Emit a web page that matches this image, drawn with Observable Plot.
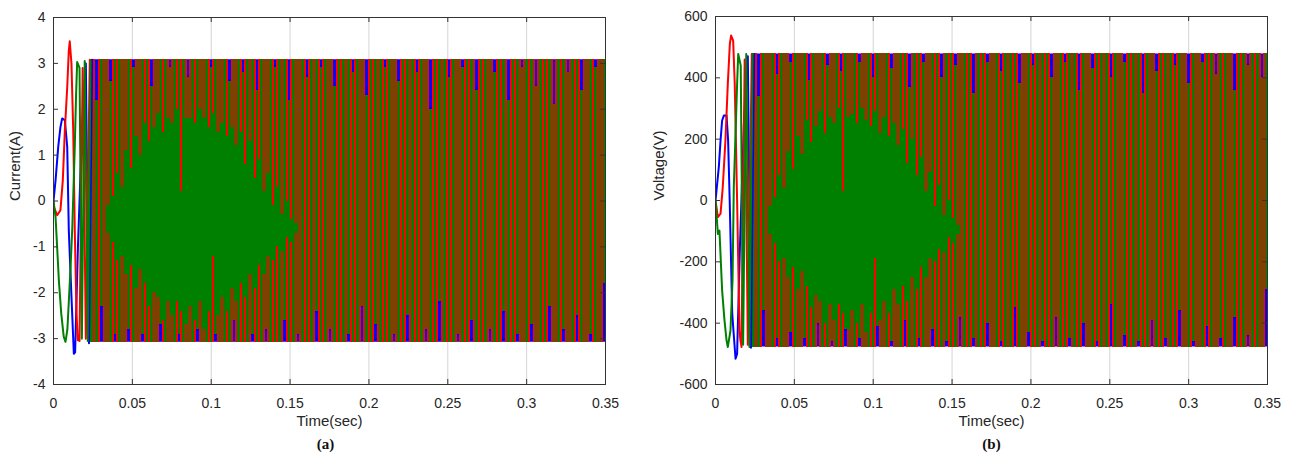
<!DOCTYPE html>
<html>
<head>
<meta charset="utf-8">
<script src="https://cdn.jsdelivr.net/npm/d3@7"></script>
<script src="https://cdn.jsdelivr.net/npm/@observablehq/plot@0.6"></script>
<style>
html, body { margin: 0; padding: 0; background: #fff; }
#wrap { display: flex; width: 1297px; height: 460px; overflow: hidden; }
#wrap > div { flex: none; }
</style>
</head>
<body>
<div id="wrap"><div id="pa"></div><div id="pb"></div></div>
<script>
// ---------- shared axis data ----------
const xTicks = [0, 0.05, 0.1, 0.15, 0.2, 0.25, 0.3, 0.35];
const xTickLabels = ["0", "0.05", "0.1", "0.15", "0.2", "0.25", "0.3", "0.35"];
const xLabel = "Time(sec)";

// ---------- panel (a): current ----------
const yTicksA = [-4, -3, -2, -1, 0, 1, 2, 3, 4];
const yTickLabelsA = ["-4", "-3", "-2", "-1", "0", "1", "2", "3", "4"];
const yLabelA = "Current(A)";
const captionA = "(a)";
const ampA = 3.08;

// start-up transient, [time, value] turning points
const blueStartA = [[0,0],[0.0013,0.45],[0.003,1.18],[0.0044,1.61],[0.0055,1.8],[0.0072,1.76],[0.0087,1.18],[0.0097,-0.64],[0.0114,-2.09],[0.0129,-3.33],[0.0137,-3.3],[0.0155,-1.0],[0.018,1.5],[0.0205,3.0],[0.0225,-3.1],[0.0245,3.08]];
const redStartA = [[0,0],[0.0002,-0.13],[0.0023,-0.31],[0.0044,-0.2],[0.0059,0.45],[0.0072,1.54],[0.0087,2.48],[0.0097,3.28],[0.0103,3.48],[0.0114,2.99],[0.0125,1.54],[0.0135,-0.64],[0.0146,-2.45],[0.0154,-3.03],[0.0165,-3.05],[0.0185,2.9],[0.0205,-3.0],[0.023,3.08]];
const greenStartA = [[0,0],[0.0013,-0.35],[0.0023,-1.0],[0.0034,-1.73],[0.0049,-2.45],[0.0065,-2.96],[0.0076,-3.07],[0.0088,-2.8],[0.01,-2.0],[0.011,-1.3],[0.0119,-0.6],[0.0127,0.3],[0.0135,1.2],[0.0143,2.3],[0.015,3.03],[0.0165,2.9],[0.018,-3.0],[0.0198,3.05],[0.0217,-3.05],[0.0235,3.05]];

// steady oscillation: one stroke per step
const strokeStart = 0.0245;
const strokeStep = 0.0029;

// green stroke extents (top / bottom)
const greenHiA = [
 3.08, 2.2, 3.08, 3.08, 2.6, 3.08, 3.08, 3.08, 3.08, 2.9,
 3.08, 3.08, 3.08, 2.5, 3.08, 3.08, 3.08, 2.9, 3.08, 3.08,
 3.08, 2.7, 3.08, 3.08, 3.08, 3.08, 2.9, 3.08, 3.08, 3.08,
 2.6, 3.08, 3.08, 2.8, 3.08, 3.08, 2.4, 3.08, 3.08, 3.08,
 2.9, 3.08, 3.08, 2.2, 3.08, 3.08, 3.08, 2.7, 3.08, 3.08,
 2.9, 3.08, 3.08, 2.5, 3.08, 3.08, 3.08, 2.8, 3.08, 3.08,
 2.3, 3.08, 3.08, 3.08, 2.9, 3.08, 3.08, 2.6, 3.08, 3.08,
 3.08, 2.8, 3.08, 3.08, 2.0, 3.08, 3.08, 3.08, 2.7, 3.08,
 3.08, 2.9, 3.08, 3.08, 2.4, 3.08, 3.08, 3.08, 2.8, 3.08,
 3.08, 2.2, 3.08, 3.08, 2.9, 3.08, 3.08, 2.5, 3.08, 3.08,
 3.08, 2.1, 3.08, 3.08, 2.8, 3.08, 3.08, 2.4, 3.08, 3.08,
 2.9, 3.08, 3.08];
const greenLoA = [
 -3.08, -3.08, -2.3, -3.08, -3.08, -2.9, -3.08, -3.08, -2.8, -3.08,
 -3.08, -2.9, -3.08, -3.08, -3.08, -2.7, -3.08, -3.08, -3.08, -2.9,
 -3.08, -3.08, -3.08, -2.8, -3.08, -3.08, -3.08, -2.9, -3.08, -3.08,
 -3.08, -2.6, -3.08, -3.08, -3.08, -2.9, -3.08, -3.08, -2.8, -3.08,
 -3.08, -3.08, -2.6, -3.08, -3.08, -2.9, -3.08, -3.08, -3.08, -2.4,
 -3.08, -3.08, -2.8, -3.08, -3.08, -3.08, -2.9, -3.08, -3.08, -2.3,
 -3.08, -3.08, -2.7, -3.08, -3.08, -3.08, -2.9, -3.08, -3.08, -2.5,
 -3.08, -3.08, -3.08, -2.8, -3.08, -3.08, -2.2, -3.08, -3.08, -3.08,
 -2.9, -3.08, -3.08, -2.6, -3.08, -3.08, -3.08, -2.8, -3.08, -3.08,
 -2.4, -3.08, -3.08, -2.9, -3.08, -3.08, -2.7, -3.08, -3.08, -3.08,
 -2.3, -3.08, -3.08, -2.8, -3.08, -3.08, -2.5, -3.08, -3.08, -2.9,
 -3.08, -3.08, -1.8];
// red strokes: the upper part runs from +amp down to redUpperEnd,
// the lower part from -amp up to redLowerEnd (equal values = full stroke)
const redUpperEndA = [
 0, 0, 0, -0.1, 0.1, 0.6, 0.3, 1.1, 0.7, 1.4,
 1.0, 1.7, 1.3, 1.6, 1.9, 1.5, 1.8, 1.7, 2.0, 0.2,
 1.8, 1.8, 1.7, 2.0, 1.8, 1.6, 1.9, 1.5, 1.7, 1.4,
 1.6, 1.2, 1.5, 0.8, 1.3, 0.5, 0.9, 0.2, 0.6, -0.1,
 0.3, -0.3, 0, -0.4, -0.5, 0, 0, 0, 0, 0,
 0, 0, 0, 0, 0, 0, 0, 0, 0, 0,
 0, 0, 0, 0, 0, 0, 0, 0, 0, 0,
 0, 0, 0, 0, 0, 0, 0, 0, 0, 0,
 0, 0, 0, 0, 0, 0, 0, 0, 0, 0,
 0, 0, 0, 0, 0, 0, 0, 0, 0, 0,
 0, 0, 0, 0, 0, 0, 0, 0, 0, 0,
 0, 0, 0];
const redLowerEndA = [
 0, 0, 0, -0.7, -0.9, -1.3, -1.2, -1.6, -1.4, -1.9,
 -1.5, -1.8, -2.3, -2.0, -2.1, -2.6, -2.2, -2.5, -2.2, -2.4,
 -2.7, -2.3, -2.6, -2.2, -2.8, -2.4, -1.2, -2.5, -2.1, -2.4,
 -1.9, -2.2, -1.8, -2.1, -1.6, -1.9, -1.4, -1.6, -1.2, -1.3,
 -1.0, -1.1, -0.8, -0.9, -0.7, 0, 0, 0, 0, 0,
 0, 0, 0, 0, 0, 0, 0, 0, 0, 0,
 0, 0, 0, 0, 0, 0, 0, 0, 0, 0,
 0, 0, 0, 0, 0, 0, 0, 0, 0, 0,
 0, 0, 0, 0, 0, 0, 0, 0, 0, 0,
 0, 0, 0, 0, 0, 0, 0, 0, 0, 0,
 0, 0, 0, 0, 0, 0, 0, 0, 0, 0,
 0, 0, 0];
// blue phase: covers the full band behind the others
const blueBandTimes = [0.023, 0.35];
const blueBandHiA = [3.08, 3.08];
const blueBandLoA = [-3.08, -3.08];

// ---------- panel (b): voltage ----------
const yTicksB = [-600, -400, -200, 0, 200, 400, 600];
const yTickLabelsB = ["-600", "-400", "-200", "0", "200", "400", "600"];
const yLabelB = "Voltage(V)";
const captionB = "(b)";
const ampB = 478;

const blueStartB = [[0,0],[0.0021,109],[0.0032,196],[0.0042,261],[0.0053,277],[0.007,277],[0.008,196],[0.009,0],[0.0106,-369],[0.0127,-516],[0.0137,-500],[0.0155,-150],[0.018,250],[0.0205,470],[0.0225,-480],[0.0245,478]];
const redStartB = [[0,0],[0.0015,-54],[0.0032,-43],[0.0046,43],[0.0063,196],[0.0078,380],[0.0091,511],[0.0099,538],[0.0112,521],[0.0122,380],[0.0137,0],[0.0152,-424],[0.0158,-456],[0.0165,-478],[0.0185,460],[0.0205,-470],[0.023,478]];
const greenStartB = [[0,0],[0.0015,-109],[0.0025,-98],[0.0042,-293],[0.0057,-391],[0.007,-456],[0.0078,-478],[0.0095,-424],[0.0108,-261],[0.0116,43],[0.0127,217],[0.0137,380],[0.0144,478],[0.016,440],[0.0175,-470],[0.0195,478],[0.0215,-478],[0.0235,478]];

const greenHiB = [
 478, 340, 478, 478, 478, 410, 478, 478, 450, 478,
 478, 478, 390, 478, 478, 478, 440, 478, 478, 420,
 478, 478, 478, 450, 478, 478, 400, 478, 478, 478,
 430, 478, 478, 478, 370, 478, 478, 450, 478, 478,
 478, 400, 478, 478, 440, 478, 478, 478, 350, 478,
 478, 450, 478, 478, 420, 478, 478, 478, 380, 478,
 478, 440, 478, 478, 478, 400, 478, 478, 450, 478,
 478, 360, 478, 478, 430, 478, 478, 478, 400, 478,
 478, 450, 478, 478, 478, 350, 478, 478, 420, 478,
 478, 478, 440, 478, 478, 380, 478, 478, 450, 478,
 478, 410, 478, 478, 478, 360, 478, 478, 440, 478,
 478, 400, 478];
const greenLoB = [
 -478, -478, -360, -478, -478, -450, -478, -478, -430, -478,
 -478, -450, -478, -478, -400, -478, -478, -460, -478, -478,
 -420, -478, -478, -450, -478, -478, -478, -410, -478, -478,
 -460, -478, -478, -390, -478, -478, -450, -478, -478, -420,
 -478, -478, -460, -478, -478, -380, -478, -478, -450, -478,
 -478, -400, -478, -478, -460, -478, -478, -350, -478, -478,
 -430, -478, -478, -460, -478, -478, -380, -478, -478, -450,
 -478, -478, -400, -478, -478, -460, -478, -478, -340, -478,
 -478, -440, -478, -478, -460, -478, -478, -390, -478, -478,
 -450, -478, -478, -360, -478, -478, -460, -478, -478, -410,
 -478, -478, -450, -478, -478, -380, -478, -478, -440, -478,
 -478, -478, -290];
const redUpperEndB = [
 0, 0, 0, -20, 10, 80, 40, 160, 100, 210,
 150, 260, 190, 240, 290, 220, 270, 250, 300, 30,
 270, 280, 250, 300, 260, 240, 290, 220, 270, 210,
 250, 180, 230, 120, 200, 80, 140, 30, 90, -20,
 50, -50, 0, -60, -80, 0, 0, 0, 0, 0,
 0, 0, 0, 0, 0, 0, 0, 0, 0, 0,
 0, 0, 0, 0, 0, 0, 0, 0, 0, 0,
 0, 0, 0, 0, 0, 0, 0, 0, 0, 0,
 0, 0, 0, 0, 0, 0, 0, 0, 0, 0,
 0, 0, 0, 0, 0, 0, 0, 0, 0, 0,
 0, 0, 0, 0, 0, 0, 0, 0, 0, 0,
 0, 0, 0];
const redLowerEndB = [
 0, 0, 0, -110, -140, -200, -190, -250, -220, -290,
 -230, -280, -350, -310, -330, -400, -340, -390, -340, -370,
 -420, -360, -400, -340, -430, -370, -190, -390, -330, -370,
 -290, -340, -280, -330, -250, -290, -220, -250, -190, -200,
 -160, -170, -120, -140, -110, 0, 0, 0, 0, 0,
 0, 0, 0, 0, 0, 0, 0, 0, 0, 0,
 0, 0, 0, 0, 0, 0, 0, 0, 0, 0,
 0, 0, 0, 0, 0, 0, 0, 0, 0, 0,
 0, 0, 0, 0, 0, 0, 0, 0, 0, 0,
 0, 0, 0, 0, 0, 0, 0, 0, 0, 0,
 0, 0, 0, 0, 0, 0, 0, 0, 0, 0,
 0, 0, 0];
const blueBandHiB = [478, 478];
const blueBandLoB = [-478, -478];

// ---------- drawing ----------
const BLUE = "#0000ff", RED = "#ff0000", GREEN = "#008000", INK = "#262626";
const FRAME_BOTTOM = 384;

function makePanel(c) {
  const n = Math.min(c.greenHi.length, c.greenLo.length, c.redUp.length, c.redLow.length);
  const rows = d3.range(n).map(i => ({
    t: strokeStart + i * strokeStep,
    gHi: c.greenHi[i], gLo: c.greenLo[i],
    rUp: c.redUp[i], rLow: c.redLow[i],
    top: c.amp, bot: -c.amp
  }));
  const band = blueBandTimes.map((t, i) => ({t, lo: c.blueLo[i], hi: c.blueHi[i]}));
  const pts = arr => arr.map(([t, v]) => ({t, v}));
  const xFmt = new Map(xTicks.map((d, i) => [d, xTickLabels[i]]));
  const yFmt = new Map(c.yTicks.map((d, i) => [d, c.yTickLabels[i]]));
  const fw = c.width - c.marginLeft - c.marginRight;
  const fh = FRAME_BOTTOM - c.marginTop;
  const half = strokeStep * 0.56;
  return Plot.plot({
    width: c.width,
    height: 460,
    marginLeft: c.marginLeft,
    marginRight: c.marginRight,
    marginTop: c.marginTop,
    marginBottom: 460 - FRAME_BOTTOM,
    x: {domain: [0, 0.35]},
    y: {domain: c.yDomain},
    style: {fontFamily: "'Liberation Sans', Arial, sans-serif", fontSize: "14px", color: INK, background: "#fff", overflow: "visible"},
    marks: [
      Plot.gridX(xTicks, {stroke: "#d4d4d4", strokeOpacity: 1}),
      Plot.areaY(band, {x: "t", y1: "lo", y2: "hi", fill: BLUE, clip: true}),
      Plot.rect(rows, {x1: d => d.t - half, x2: d => d.t + half, y1: "gLo", y2: "gHi", fill: GREEN, clip: true, shapeRendering: "crispEdges"}),
      Plot.ruleX(rows, {x: d => d.t + strokeStep / 2, y1: "rUp", y2: "top", stroke: RED, strokeWidth: 2, clip: true, shapeRendering: "crispEdges"}),
      Plot.ruleX(rows, {x: d => d.t + strokeStep / 2, y1: "bot", y2: "rLow", stroke: RED, strokeWidth: 2, clip: true, shapeRendering: "crispEdges"}),
      Plot.line(pts(c.blueStart), {x: "t", y: "v", stroke: BLUE, strokeWidth: 2, clip: true}),
      Plot.line(pts(c.redStart), {x: "t", y: "v", stroke: RED, strokeWidth: 2, clip: true}),
      Plot.line(pts(c.greenStart), {x: "t", y: "v", stroke: GREEN, strokeWidth: 2, clip: true}),
      Plot.frame({stroke: "#333", strokeWidth: 1}),
      Plot.tickX(xTicks, {x: d => d, stroke: "#333", insetTop: fh - 5}),
      Plot.tickX(xTicks, {x: d => d, stroke: "#333", insetBottom: fh - 5}),
      Plot.tickY(c.yTicks, {y: d => d, stroke: "#333", insetRight: fw - 5}),
      Plot.tickY(c.yTicks, {y: d => d, stroke: "#333", insetLeft: fw - 5}),
      Plot.axisX(xTicks, {tickSize: 0, tickPadding: 14, tickFormat: d => xFmt.get(d), label: null, fill: INK}),
      Plot.axisY(c.yTicks, {tickSize: 0, tickPadding: 8, tickFormat: d => yFmt.get(d), label: null, fill: INK}),
      Plot.text([c.yLabel], {text: d => d, frameAnchor: "left", dx: c.yLabelDx, rotate: -90, fontSize: 15, fill: INK}),
      Plot.text([xLabel], {text: d => d, frameAnchor: "bottom", dy: 41, fontSize: 15, fill: INK}),
      Plot.text([c.caption], {text: d => d, frameAnchor: "bottom", dy: 64, dx: c.captionDx, fontSize: 15, fontWeight: "bold", fontFamily: "'Liberation Serif', 'Times New Roman', serif", fill: "#111"})
    ]
  });
}

document.getElementById("pa").appendChild(makePanel({
  width: 649, marginLeft: 53, marginRight: 44, marginTop: 17,
  yDomain: [-4, 4], yTicks: yTicksA, yTickLabels: yTickLabelsA,
  yLabel: yLabelA, yLabelDx: -38, caption: captionA, captionDx: -4,
  amp: ampA, greenHi: greenHiA, greenLo: greenLoA, redUp: redUpperEndA, redLow: redLowerEndA,
  blueHi: blueBandHiA, blueLo: blueBandLoA,
  blueStart: blueStartA, redStart: redStartA, greenStart: greenStartA
}));
document.getElementById("pb").appendChild(makePanel({
  width: 648, marginLeft: 66, marginRight: 30, marginTop: 16,
  yDomain: [-600, 600], yTicks: yTicksB, yTickLabels: yTickLabelsB,
  yLabel: yLabelB, yLabelDx: -56, caption: captionB, captionDx: 0,
  amp: ampB, greenHi: greenHiB, greenLo: greenLoB, redUp: redUpperEndB, redLow: redLowerEndB,
  blueHi: blueBandHiB, blueLo: blueBandLoB,
  blueStart: blueStartB, redStart: redStartB, greenStart: greenStartB
}));
</script>
</body>
</html>
